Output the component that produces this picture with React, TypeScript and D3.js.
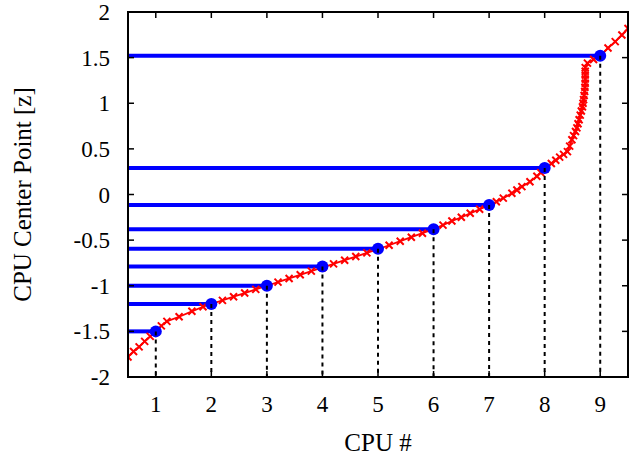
import React from "react";
import * as d3 from "d3";

// CPU boundaries (blue points): CPU number and z centre point
const cpuIds = [1, 2, 3, 4, 5, 6, 7, 8, 9];
const cpuZ = [-1.5, -1.2, -1.0, -0.79, -0.595, -0.38, -0.115, 0.29, 1.52];

// red curve: cumulative load position (x) versus z
const curveX = [
  0.5, 0.6, 0.7, 0.8, 0.9, 1.0, 1.1, 1.2, 1.42, 1.65, 1.85, 2.0,
  2.2, 2.4, 2.6, 2.8, 3.0, 3.2, 3.4, 3.6, 3.8, 4.0, 4.2, 4.4, 4.6, 4.8, 5.0,
  5.2, 5.4, 5.6, 5.8, 6.0, 6.17, 6.33, 6.5, 6.66, 6.83, 7.0,
  7.13, 7.255, 7.41, 7.5, 7.59, 7.735, 7.86, 7.93, 8.0,
  8.12, 8.2, 8.27, 8.34, 8.41, 8.45, 8.49, 8.52, 8.555, 8.58, 8.6, 8.62, 8.64,
  8.66, 8.68, 8.69, 8.7, 8.71, 8.72, 8.725, 8.73, 8.73, 8.73, 8.73, 8.73,
  8.77, 8.88, 9.0, 9.14, 9.27, 9.39, 9.5,
];
const curveZ = [
  -1.78, -1.72, -1.67, -1.61, -1.555, -1.5, -1.44, -1.39, -1.34, -1.28, -1.23, -1.2,
  -1.16, -1.12, -1.08, -1.04, -1.0, -0.96, -0.92, -0.88, -0.84, -0.8, -0.76, -0.72, -0.68, -0.64, -0.6,
  -0.556, -0.512, -0.468, -0.424, -0.38, -0.336, -0.29, -0.25, -0.206, -0.162, -0.12,
  -0.08, -0.04, 0.013, 0.05, 0.086, 0.14, 0.2, 0.24, 0.28,
  0.34, 0.375, 0.41, 0.44, 0.47, 0.53, 0.6, 0.645, 0.69, 0.73, 0.775, 0.82, 0.87,
  0.915, 0.96, 1.0, 1.04, 1.085, 1.13, 1.175, 1.22, 1.265, 1.31, 1.35, 1.39,
  1.44, 1.48, 1.52, 1.605, 1.675, 1.748, 1.82,
];

const xTicks = [1, 2, 3, 4, 5, 6, 7, 8, 9];
const yTicks = [-2, -1.5, -1, -0.5, 0, 0.5, 1, 1.5, 2];
const xTitle = "CPU #";
const yTitle = "CPU Center Point [z]";

const W = 629;
const H = 459;
const L = 128;
const R = 628;
const T = 12;
const B = 377;

export default function App() {
  const x = d3.scaleLinear().domain([0.5, 9.5]).range([L, R]);
  const y = d3.scaleLinear().domain([-2, 2]).range([B, T]);
  const pts: [number, number][] = curveX.map((v, i) => [v, curveZ[i]]);
  const line = d3
    .line<[number, number]>()
    .x((d) => x(d[0]))
    .y((d) => y(d[1]));
  const font = "'Liberation Serif', 'Times New Roman', serif";
  const tk = 6;
  const m = 3.5;
  return (
    <svg
      width={W}
      height={H}
      style={{ position: "absolute", left: 0, top: 0, background: "#fff" }}
    >
      <defs>
        <clipPath id="plot">
          <rect x={L} y={T} width={R - L} height={B - T} />
        </clipPath>
      </defs>
      {/* blue horizontal lines */}
      {cpuIds.map((c, i) => (
        <line
          key={"h" + c}
          x1={x(0.5)}
          x2={x(c)}
          y1={y(cpuZ[i])}
          y2={y(cpuZ[i])}
          stroke="#0000ff"
          strokeWidth={4}
        />
      ))}
      {/* red curve */}
      <g clipPath="url(#plot)">
        <path d={line(pts) || ""} fill="none" stroke="#ff0000" strokeWidth={1.8} />
        {pts.map((p, i) => (
          <path
            key={"m" + i}
            d={`M${x(p[0]) - m},${y(p[1]) - m}L${x(p[0]) + m},${y(p[1]) + m}M${x(p[0]) - m},${y(p[1]) + m}L${x(p[0]) + m},${y(p[1]) - m}`}
            stroke="#ff0000"
            strokeWidth={2}
          />
        ))}
      </g>
      {/* blue points */}
      {cpuIds.map((c, i) => (
        <circle key={"c" + c} cx={x(c)} cy={y(cpuZ[i])} r={6} fill="#0000ff" />
      ))}
      {/* dashed verticals */}
      {cpuIds.map((c, i) => (
        <line
          key={"v" + c}
          x1={x(c)}
          x2={x(c)}
          y1={y(cpuZ[i])}
          y2={B}
          stroke="#000"
          strokeWidth={2}
          strokeDasharray="4,4"
        />
      ))}
      {/* frame */}
      <rect x={L} y={T} width={R - L} height={B - T} fill="none" stroke="#000" strokeWidth={2} />
      {xTicks.map((t) => (
        <g key={"xt" + t}>
          <line x1={x(t)} x2={x(t)} y1={B} y2={B - tk} stroke="#000" strokeWidth={1.5} />
          <line x1={x(t)} x2={x(t)} y1={T} y2={T + tk} stroke="#000" strokeWidth={1.5} />
          <text x={x(t)} y={412} textAnchor="middle" fontFamily={font} fontSize={23}>
            {t}
          </text>
        </g>
      ))}
      {yTicks.map((t) => (
        <g key={"yt" + t}>
          <line x1={L} x2={L + tk} y1={y(t)} y2={y(t)} stroke="#000" strokeWidth={1.5} />
          <line x1={R} x2={R - tk} y1={y(t)} y2={y(t)} stroke="#000" strokeWidth={1.5} />
          <text x={110} y={y(t) + 8} textAnchor="end" fontFamily={font} fontSize={23}>
            {t}
          </text>
        </g>
      ))}
      <text x={(L + R) / 2} y={451} textAnchor="middle" fontFamily={font} fontSize={25}>
        {xTitle}
      </text>
      <text
        transform={`translate(31,${(T + B) / 2}) rotate(-90)`}
        textAnchor="middle"
        fontFamily={font}
        fontSize={25}
      >
        {yTitle}
      </text>
    </svg>
  );
}
